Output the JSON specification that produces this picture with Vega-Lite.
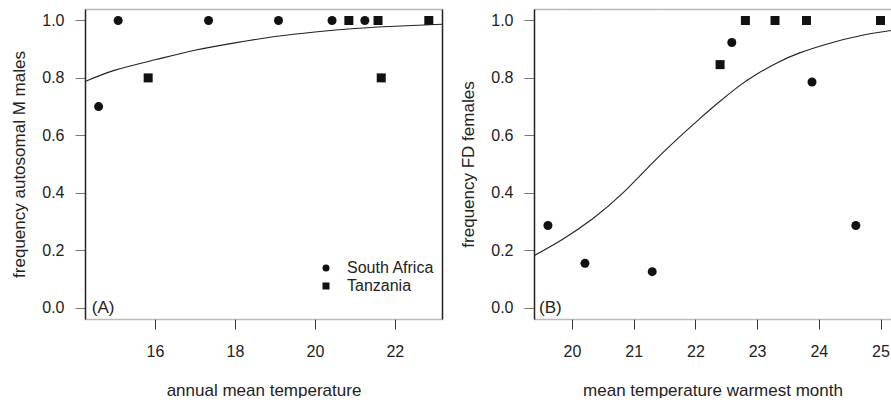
{
  "$schema": "https://vega.github.io/schema/vega-lite/v6.json",
  "padding": {"left": 10, "top": 9, "right": 0, "bottom": 0},
  "background": "white",
  "config": {
    "view": {"stroke": null},
    "font": "Liberation Sans",
    "axis": {
      "grid": false,
      "labelFont": "Liberation Sans",
      "titleFont": "Liberation Sans",
      "labelFontSize": 16,
      "titleFontSize": 17,
      "titleFontWeight": "normal",
      "labelColor": "#222",
      "titleColor": "#222",
      "tickSize": 10,
      "domain": true
    },
    "legend": {"labelFont": "Liberation Sans", "labelFontSize": 16, "labelColor": "#222"}
  },
  "datasets": {
    "ptsA": [
      {"temp": 14.59, "freq": 0.7, "country": "South Africa"},
      {"temp": 15.08, "freq": 1.0, "country": "South Africa"},
      {"temp": 17.34, "freq": 1.0, "country": "South Africa"},
      {"temp": 19.09, "freq": 1.0, "country": "South Africa"},
      {"temp": 20.43, "freq": 1.0, "country": "South Africa"},
      {"temp": 21.25, "freq": 1.0, "country": "South Africa"},
      {"temp": 15.83, "freq": 0.8, "country": "Tanzania"},
      {"temp": 20.85, "freq": 1.0, "country": "Tanzania"},
      {"temp": 21.58, "freq": 1.0, "country": "Tanzania"},
      {"temp": 21.66, "freq": 0.8, "country": "Tanzania"},
      {"temp": 22.85, "freq": 1.0, "country": "Tanzania"}
    ],
    "ptsB": [
      {"temp": 19.61, "freq": 0.2857, "country": "South Africa"},
      {"temp": 20.21, "freq": 0.1538, "country": "South Africa"},
      {"temp": 21.30, "freq": 0.125, "country": "South Africa"},
      {"temp": 22.59, "freq": 0.9231, "country": "South Africa"},
      {"temp": 23.89, "freq": 0.7857, "country": "South Africa"},
      {"temp": 24.60, "freq": 0.2857, "country": "South Africa"},
      {"temp": 22.40, "freq": 0.8462, "country": "Tanzania"},
      {"temp": 22.81, "freq": 1.0, "country": "Tanzania"},
      {"temp": 23.29, "freq": 1.0, "country": "Tanzania"},
      {"temp": 23.80, "freq": 1.0, "country": "Tanzania"},
      {"temp": 25.00, "freq": 1.0, "country": "Tanzania"}
    ],
    "curveA": [
      {"temp": 14.25, "freq": 0.787},
      {"temp": 15.0, "freq": 0.827},
      {"temp": 16.0, "freq": 0.863},
      {"temp": 17.0, "freq": 0.896},
      {"temp": 18.0, "freq": 0.922},
      {"temp": 19.0, "freq": 0.944},
      {"temp": 20.0, "freq": 0.960},
      {"temp": 21.0, "freq": 0.972},
      {"temp": 22.0, "freq": 0.980},
      {"temp": 23.18, "freq": 0.987}
    ],
    "curveB": [
      {"temp": 19.38, "freq": 0.180},
      {"temp": 19.85, "freq": 0.238},
      {"temp": 20.34, "freq": 0.310},
      {"temp": 20.83, "freq": 0.400},
      {"temp": 21.31, "freq": 0.505},
      {"temp": 21.73, "freq": 0.592},
      {"temp": 22.06, "freq": 0.656},
      {"temp": 22.35, "freq": 0.710},
      {"temp": 22.71, "freq": 0.772},
      {"temp": 22.94, "freq": 0.806},
      {"temp": 23.32, "freq": 0.852},
      {"temp": 23.70, "freq": 0.888},
      {"temp": 24.18, "freq": 0.921},
      {"temp": 24.67, "freq": 0.947},
      {"temp": 25.17, "freq": 0.965}
    ],
    "labA": [{"label": "(A)"}],
    "labB": [{"label": "(B)"}]
  },
  "hconcat": [
    {
      "width": 357,
      "height": 310,
      "layer": [
        {
          "data": {"name": "ptsA"},
          "mark": {"type": "point", "filled": true, "size": 81, "opacity": 1, "color": "#111"},
          "encoding": {
            "x": {"field": "temp", "type": "quantitative", "scale": {"domain": [14.25, 23.18], "nice": false, "zero": false},
              "axis": {"orient": "bottom", "title": "annual mean temperature", "values": [16, 18, 20, 22], "tickColor": "#333", "labelPadding": 14, "titlePadding": 23, "domainColor": "#777", "domainWidth": 1.3, "domainDash": [1, 1]}},
            "y": {"field": "freq", "type": "quantitative", "scale": {"domain": [-0.04, 1.04], "nice": false, "zero": false},
              "axis": {"orient": "left", "title": "frequency autosomal M males", "values": [0, 0.2, 0.4, 0.6, 0.8, 1.0], "format": ".1f", "tickColor": "#777", "labelPadding": 11, "titlePadding": 13, "domainColor": "#222", "domainWidth": 1.5}},
            "shape": {"field": "country", "type": "nominal", "scale": {"domain": ["South Africa", "Tanzania"], "range": ["circle", "square"]},
              "legend": {"orient": "none", "legendX": 233, "legendY": 251, "title": null, "symbolSize": 49, "symbolFillColor": "#111", "symbolStrokeColor": "#111", "symbolStrokeWidth": 0, "labelOffset": 13, "rowPadding": 2, "padding": 0}}
          }
        },
        {
          "data": {"name": "curveA"},
          "mark": {"type": "line", "color": "#222", "strokeWidth": 1.1, "interpolate": "natural", "clip": true},
          "encoding": {
            "x": {"field": "temp", "type": "quantitative", "scale": {"domain": [14.25, 23.18], "nice": false, "zero": false},
              "axis": {"orient": "top", "title": null, "labels": false, "ticks": false, "domainColor": "#777", "domainWidth": 1.5, "domainDash": [1, 1]}},
            "y": {"field": "freq", "type": "quantitative", "scale": {"domain": [-0.04, 1.04], "nice": false, "zero": false},
              "axis": {"orient": "right", "title": null, "labels": false, "ticks": false, "domainColor": "#222", "domainWidth": 1.5}}
          }
        },
        {
          "data": {"name": "labA"},
          "mark": {"type": "text", "align": "left", "baseline": "middle", "fontSize": 17, "color": "#222", "font": "Liberation Sans"},
          "encoding": {
            "x": {"datum": 14.42, "type": "quantitative", "axis": null},
            "y": {"datum": 0, "type": "quantitative", "axis": null},
            "text": {"field": "label"}
          }
        }
      ],
      "resolve": {"axis": {"x": "independent", "y": "independent"}}
    },
    {
      "width": 357,
      "height": 310,
      "layer": [
        {
          "data": {"name": "ptsB"},
          "mark": {"type": "point", "filled": true, "size": 81, "opacity": 1, "color": "#111"},
          "encoding": {
            "x": {"field": "temp", "type": "quantitative", "scale": {"domain": [19.384, 25.17], "nice": false, "zero": false},
              "axis": {"orient": "bottom", "title": "mean temperature warmest month", "values": [20, 21, 22, 23, 24, 25], "tickColor": "#333", "labelPadding": 14, "titlePadding": 23, "domainColor": "#777", "domainWidth": 1.3, "domainDash": [1, 1]}},
            "y": {"field": "freq", "type": "quantitative", "scale": {"domain": [-0.04, 1.04], "nice": false, "zero": false},
              "axis": {"orient": "left", "title": "frequency FD females", "values": [0, 0.2, 0.4, 0.6, 0.8, 1.0], "format": ".1f", "tickColor": "#777", "labelPadding": 11, "titlePadding": 13, "domainColor": "#222", "domainWidth": 1.5}},
            "shape": {"field": "country", "type": "nominal", "scale": {"domain": ["South Africa", "Tanzania"], "range": ["circle", "square"]}, "legend": null}
          }
        },
        {
          "data": {"name": "curveB"},
          "mark": {"type": "line", "color": "#222", "strokeWidth": 1.1, "interpolate": "natural", "clip": true},
          "encoding": {
            "x": {"field": "temp", "type": "quantitative", "scale": {"domain": [19.384, 25.17], "nice": false, "zero": false},
              "axis": {"orient": "top", "title": null, "labels": false, "ticks": false, "domainColor": "#777", "domainWidth": 1.5, "domainDash": [1, 1]}},
            "y": {"field": "freq", "type": "quantitative", "scale": {"domain": [-0.04, 1.04], "nice": false, "zero": false}, "axis": null}
          }
        },
        {
          "data": {"name": "labB"},
          "mark": {"type": "text", "align": "left", "baseline": "middle", "fontSize": 17, "color": "#222", "font": "Liberation Sans"},
          "encoding": {
            "x": {"datum": 19.465, "type": "quantitative", "axis": null},
            "y": {"datum": 0, "type": "quantitative", "axis": null},
            "text": {"field": "label"}
          }
        }
      ],
      "resolve": {"axis": {"x": "independent", "y": "independent"}}
    }
  ],
  "spacing": 92,
  "bounds": "flush",
  "resolve": {"scale": {"shape": "independent"}}
}
